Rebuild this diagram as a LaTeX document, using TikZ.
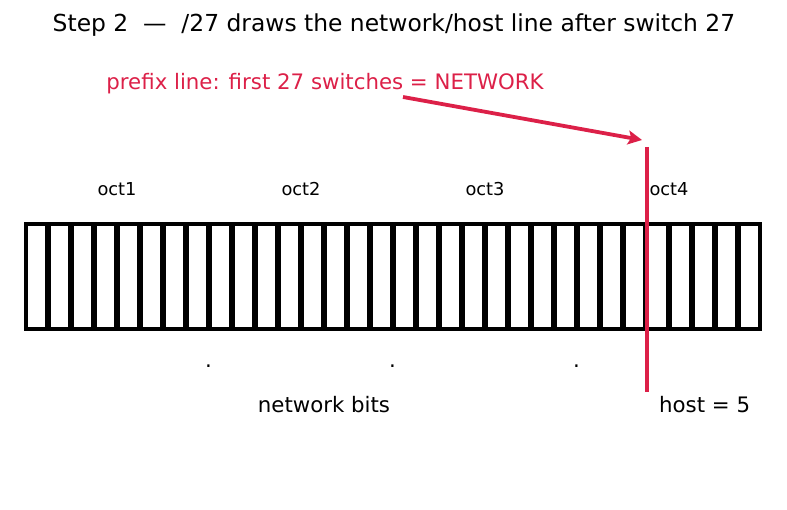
\documentclass[tikz,border=0pt]{standalone}
\usepackage{fontspec}
\setmainfont{DejaVu Sans}
\usetikzlibrary{arrows.meta}
\definecolor{crim}{RGB}{220,32,72}
\begin{document}
\begin{tikzpicture}[x=1pt,y=-1pt,
  cell/.style={draw=black,fill=white,line width=3.9pt},
  lbl/.style={inner sep=0pt,anchor=base},
  redline/.style={draw=crim,line width=4.2pt},
  redarrow/.style={draw=crim,line width=3.8pt,-{Stealth[length=14pt,width=14pt,inset=3pt]}}]
\useasboundingbox (0,0) rectangle (787,510);
\node[lbl,font=\fontsize{23.4}{26}\selectfont] (title) at (394,32) {Step 2\ \ —\ \ /27 draws the network/host line after switch 27};
\node[lbl,font=\fontsize{21.3}{24}\selectfont,text=crim] (prefix) at (325,90) {prefix line: first 27 switches = NETWORK};
\foreach \i in {0,...,31}{
  \draw[cell] ({26+23*\i},224) rectangle ({47+23*\i},329);
}
\foreach \k/\t in {0/oct1,1/oct2,2/oct3,3/oct4}{
  \node[lbl,font=\fontsize{17.8}{20}\selectfont] (o\k) at ({117+184*\k},195.5) {\t};
}
\foreach \k in {1,2,3}{
  \node[lbl,font=\fontsize{21.3}{24}\selectfont] (d\k) at ({208.5+184*(\k-1)},368) {.};
}
\node[lbl,font=\fontsize{21.3}{24}\selectfont] (net) at (324,413) {network bits};
\node[lbl,font=\fontsize{21.3}{24}\selectfont,anchor=base west] (host) at (659,413) {host = 5};
\coordinate (lt) at (647,147);
\coordinate (lb) at (647,392);
\draw[redline] (lt) -- (lb);
\coordinate (as) at (403,97);
\coordinate (ae) at (642,140);
\draw[redarrow] (as) -- (ae);
\end{tikzpicture}
\end{document}
